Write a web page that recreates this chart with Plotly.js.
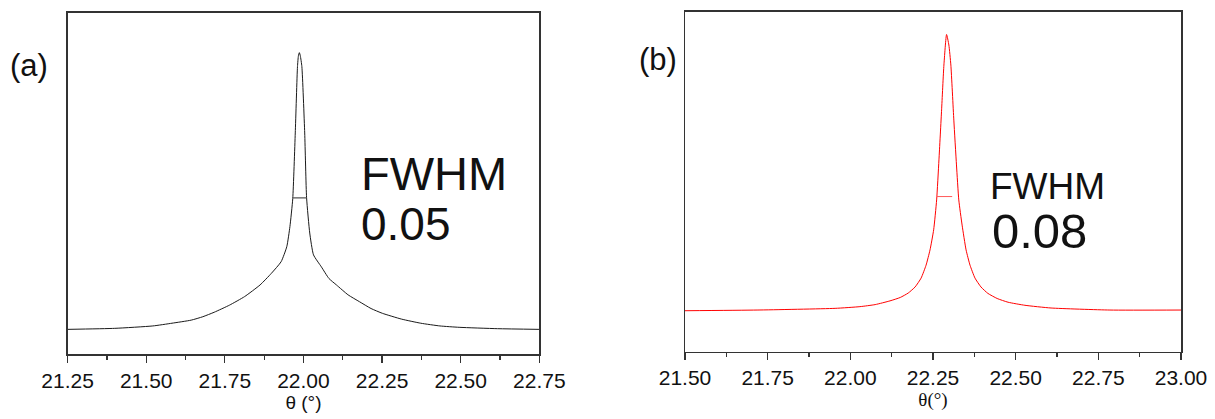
<!DOCTYPE html>
<html>
<head>
<meta charset="utf-8">
<script src="https://cdn.plot.ly/plotly-3.0.1.min.js"></script>
<style>html,body{margin:0;padding:0;background:#fff;}#chart{width:1215px;height:419px;}</style>
</head>
<body>
<div id="chart"></div>
<script>
// Panel (a): theta (deg) vs intensity (a.u.)
const thetaA = [21.250, 21.400, 21.521, 21.582, 21.643, 21.680, 21.716, 21.765, 21.813, 21.862, 21.898, 21.929, 21.947, 21.957, 21.966, 21.974, 21.981, 21.984, 21.987, 21.990, 21.995, 22.004, 22.010, 22.020, 22.032, 22.057, 22.081, 22.105, 22.142, 22.178, 22.215, 22.251, 22.312, 22.373, 22.434, 22.495, 22.617, 22.749];
const intensityA = [7.3, 7.6, 8.3, 9.1, 10.0, 11.0, 12.3, 14.4, 16.9, 20.3, 23.7, 27.1, 31.5, 37.4, 45.6, 64.8, 84.2, 87.4, 88.3, 87.4, 84.2, 64.8, 45.8, 35.5, 29.1, 25.6, 22.2, 20.3, 17.4, 15.4, 13.4, 12.0, 10.3, 9.1, 8.3, 7.9, 7.5, 7.3];
const fwhmA_x = [21.965, 22.010];
const fwhmA_y = [45.8, 45.8];

// Panel (b)
const thetaB = [21.500, 21.718, 21.954, 22.029, 22.075, 22.120, 22.151, 22.175, 22.196, 22.214, 22.229, 22.241, 22.252, 22.261, 22.268, 22.276, 22.283, 22.291, 22.298, 22.304, 22.313, 22.321, 22.328, 22.338, 22.350, 22.362, 22.377, 22.395, 22.416, 22.444, 22.477, 22.528, 22.607, 22.785, 23.000];
const intensityB = [12.0, 12.2, 12.7, 13.2, 13.8, 14.9, 15.9, 17.2, 19.0, 21.6, 25.4, 29.9, 35.8, 44.6, 56.4, 71.1, 84.3, 93.3, 90.2, 84.3, 68.1, 54.9, 44.6, 37.2, 29.9, 25.4, 21.6, 19.0, 17.1, 15.6, 14.5, 13.6, 12.8, 12.2, 12.2];
const fwhmB_x = [22.261, 22.308];
const fwhmB_y = [45.6, 45.6];

const xTicksA = [21.25, 21.50, 21.75, 22.00, 22.25, 22.50, 22.75];
const xTicksB = [21.50, 21.75, 22.00, 22.25, 22.50, 22.75, 23.00];

const W = 1215, H = 419;
const px = v => v / W;
const py = v => 1 - v / H;

const traces = [
  {x: thetaA, y: intensityA, type: 'scatter', mode: 'lines', line: {color: '#1a1a1a', width: 1, shape: 'spline', smoothing: 0.5}, xaxis: 'x', yaxis: 'y', hoverinfo: 'skip'},
  {x: fwhmA_x, y: fwhmA_y, type: 'scatter', mode: 'lines', line: {color: '#555', width: 1.2}, xaxis: 'x', yaxis: 'y', hoverinfo: 'skip'},
  {x: thetaB, y: intensityB, type: 'scatter', mode: 'lines', line: {color: '#ff0000', width: 1, shape: 'spline', smoothing: 0.5}, xaxis: 'x2', yaxis: 'y2', hoverinfo: 'skip'},
  {x: fwhmB_x, y: fwhmB_y, type: 'scatter', mode: 'lines', line: {color: '#ff5a5a', width: 1}, xaxis: 'x2', yaxis: 'y2', hoverinfo: 'skip'}
];

const axisLine = {showline: true, linecolor: '#333', linewidth: 1.5, mirror: true, showgrid: false, zeroline: false};

function xaxisDef(range, ticks, dom, anchor, titleText, titleFamily) {
  return Object.assign({}, axisLine, {
    domain: dom, anchor: anchor, range: range, autorange: false,
    tickmode: 'array', tickvals: ticks, ticktext: ticks.map(t => t.toFixed(2)),
    ticks: 'outside', ticklen: 7, tickwidth: 1.3, tickcolor: '#333',
    minor: {ticks: 'outside', ticklen: 4, tickwidth: 1.2, tickcolor: '#333', tickvals: ticks.slice(0, -1).map(t => t + 0.125)},
    tickfont: {family: 'Liberation Sans, Arial, sans-serif', size: 21, color: '#111'},
    title: {text: titleText, font: {family: titleFamily, size: 19, color: '#111'}, standoff: 3}
  });
}
function yaxisDef(range, dom, anchor) {
  return Object.assign({}, axisLine, {
    domain: dom, anchor: anchor, range: range, autorange: false,
    showticklabels: false, ticks: ''
  });
}

const layout = {
  width: W, height: H,
  margin: {l: 0, r: 0, t: 0, b: 0},
  paper_bgcolor: '#fff', plot_bgcolor: '#fff',
  showlegend: false,
  font: {family: 'Liberation Sans, Arial, sans-serif', color: '#111'},
  xaxis: xaxisDef([21.25, 22.75], xTicksA, [px(67.6), px(539.3)], 'y', 'θ (°)', 'Liberation Sans, Arial, sans-serif'),
  yaxis: yaxisDef([0, 100], [py(354.3), py(12.7)], 'x'),
  xaxis2: xaxisDef([21.5, 23.0], xTicksB, [px(685), px(1181)], 'y2', 'θ(°)', 'Liberation Serif, Times New Roman, serif'),
  yaxis2: yaxisDef([0, 100], [py(351.5), py(11.7)], 'x2'),
  annotations: [
    {text: '(a)', xref: 'paper', yref: 'paper', x: px(29), y: py(66), xanchor: 'center', yanchor: 'middle', showarrow: false, font: {size: 31, color: '#111'}},
    {text: 'FWHM', xref: 'paper', yref: 'paper', x: px(359), y: py(174), xanchor: 'left', yanchor: 'middle', showarrow: false, font: {size: 47, color: '#111'}},
    {text: '0.05', xref: 'paper', yref: 'paper', x: px(359), y: py(224), xanchor: 'left', yanchor: 'middle', showarrow: false, font: {size: 46, color: '#111'}},
    {text: '(b)', xref: 'paper', yref: 'paper', x: px(658), y: py(60), xanchor: 'center', yanchor: 'middle', showarrow: false, font: {size: 31, color: '#111'}},
    {text: 'FWHM', xref: 'paper', yref: 'paper', x: px(988), y: py(186), xanchor: 'left', yanchor: 'middle', showarrow: false, font: {size: 37, color: '#111'}},
    {text: '0.08', xref: 'paper', yref: 'paper', x: px(990), y: py(231), xanchor: 'left', yanchor: 'middle', showarrow: false, font: {size: 49, color: '#111'}}
  ]
};

Plotly.newPlot('chart', traces, layout, {staticPlot: true, displayModeBar: false});
</script>
</body>
</html>
